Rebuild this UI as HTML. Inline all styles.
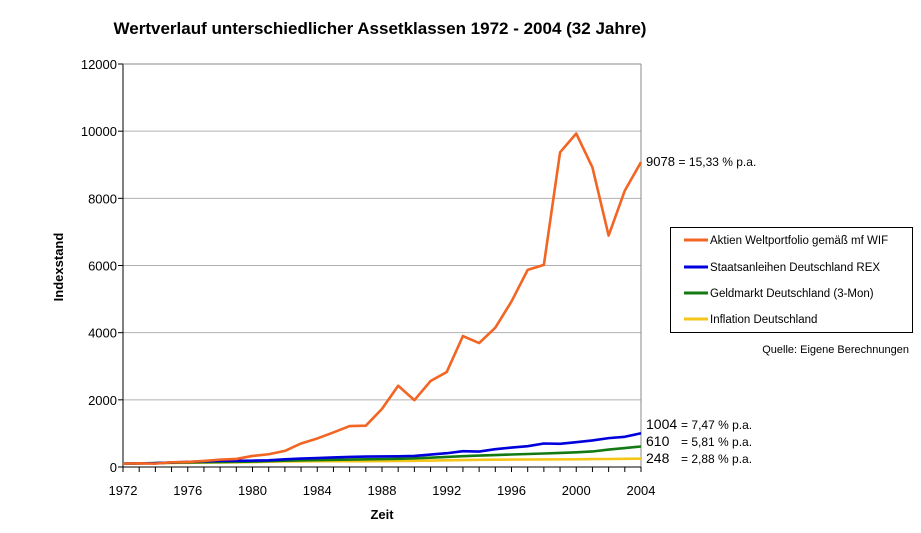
<!DOCTYPE html>
<html><head><meta charset="utf-8"><style>
body{margin:0;background:#fff;font-family:"Liberation Sans",Arial,sans-serif}
svg text{font-family:"Liberation Sans",Arial,sans-serif}
</style></head><body>
<svg width="921" height="528" id="c">
<text x="380" y="34" text-anchor="middle" font-size="17" font-weight="bold">Wertverlauf unterschiedlicher Assetklassen 1972 - 2004 (32 Jahre)</text>
<g id="grid"></g><g id="axes"></g><g id="series"></g>
<text x="0" y="0" transform="translate(63,267) rotate(-90)" text-anchor="middle" font-size="13" font-weight="bold">Indexstand</text>
<text x="382" y="519" text-anchor="middle" font-size="13" font-weight="bold">Zeit</text>
<text x="646" y="166" font-size="13">9078 <tspan font-size="12">= 15,33 %  p.a.</tspan></text>
<text x="646" y="429" font-size="14">1004 <tspan font-size="12">= 7,47 % p.a.</tspan></text>
<text x="646" y="446" font-size="14">610 <tspan x="681" font-size="12">= 5,81 % p.a.</tspan></text>
<text x="646" y="463" font-size="14">248 <tspan x="681" font-size="12">= 2,88 % p.a.</tspan></text>
<g>
<rect x="670.5" y="227.5" width="242" height="105" fill="#fff" stroke="#000"/>
<line x1="684" y1="240" x2="708" y2="240" stroke="#f26522" stroke-width="3"/>
<text x="710" y="244" font-size="11.5">Aktien Weltportfolio gemäß mf WIF</text>
<line x1="684" y1="267" x2="708" y2="267" stroke="#0000dd" stroke-width="3"/>
<text x="710" y="271" font-size="11.5">Staatsanleihen Deutschland REX</text>
<line x1="684" y1="293" x2="708" y2="293" stroke="#137a13" stroke-width="3"/>
<text x="710" y="297" font-size="11.5">Geldmarkt Deutschland (3-Mon)</text>
<line x1="684" y1="319" x2="708" y2="319" stroke="#f5c518" stroke-width="3"/>
<text x="710" y="323" font-size="11.5">Inflation Deutschland</text>
</g>
<text x="909" y="353" text-anchor="end" font-size="11">Quelle: Eigene Berechnungen</text>
</svg>
<script>
const years=[1972,1973,1974,1975,1976,1977,1978,1979,1980,1981,1982,1983,1984,1985,1986,1987,1988,1989,1990,1991,1992,1993,1994,1995,1996,1997,1998,1999,2000,2001,2002,2003,2004];
const aktien=[100,110,100,140,150,180,220,240,330,380,480,700,850,1030,1220,1230,1730,2420,1990,2560,2830,3900,3690,4150,4930,5870,6020,9370,9930,8920,6890,8230,9078];
const rex=[100,108,115,135,150,170,185,185,190,200,230,250,265,285,300,310,315,320,330,370,410,470,460,530,580,620,700,690,740,790,860,900,1004];
const geldmarkt=[100,108,118,128,136,142,147,153,162,175,188,198,206,214,221,228,235,244,258,278,300,322,340,356,372,387,402,418,438,462,520,565,610];
const inflation=[100,107,114,121,126,131,135,140,147,156,164,169,173,173,172,173,175,180,185,192,200,207,213,217,220,223,225,227,230,235,238,243,248];
const yTicks=[0,2000,4000,6000,8000,10000,12000];
const xTicks=[1972,1976,1980,1984,1988,1992,1996,2000,2004];
const X0=123,X1=641,Y0=467,Y1=64;
const xs=y=>X0+(y-1972)/32*(X1-X0);
const ys=v=>Y0-v/12000*(Y0-Y1);
const NS="http://www.w3.org/2000/svg";
function mk(t,a,p){const e=document.createElementNS(NS,t);for(const k in a)e.setAttribute(k,a[k]);p.appendChild(e);return e;}
const grid=document.getElementById('grid'),axes=document.getElementById('axes'),ser=document.getElementById('series');
yTicks.forEach(v=>{
 if(v>0){const l=mk('line',{x1:X0,x2:X1,y1:ys(v),y2:ys(v),stroke:'#b0b0b0'},grid);
 
 }
 mk('line',{x1:X0-5,x2:X0,y1:ys(v),y2:ys(v),stroke:'#000'},axes);
 const t=mk('text',{x:X0-6,y:ys(v)+5,'text-anchor':'end','font-size':'13'},axes);t.textContent=v;
 
 
});
mk('line',{x1:X0,x2:X0,y1:Y1,y2:Y0,stroke:'#000'},axes);
mk('line',{x1:X1,x2:X1,y1:Y1,y2:Y0,stroke:'#888'},axes);
mk('line',{x1:X0,x2:X1,y1:Y1,y2:Y1,stroke:'#888'},axes);
mk('line',{x1:X0,x2:X1,y1:Y0,y2:Y0,stroke:'#000'},axes);
years.forEach(y=>mk('line',{x1:xs(y),x2:xs(y),y1:Y0,y2:Y0+5,stroke:'#000'},axes));
xTicks.forEach(y=>{const t=mk('text',{x:xs(y),y:495,'text-anchor':'middle','font-size':'13'},axes);t.textContent=y;
 
 });
[[inflation,'#f5c518','line-inflation'],[geldmarkt,'#137a13','line-geldmarkt'],[rex,'#0000dd','line-rex'],[aktien,'#f26522','line-aktien']].forEach(([d,c,n])=>{
 const p=mk('polyline',{points:d.map((v,i)=>xs(years[i])+','+ys(v)).join(' '),fill:'none',stroke:c,'stroke-width':2.6,'stroke-linejoin':'round'},ser);
 
 
});
</script>
</body></html>
